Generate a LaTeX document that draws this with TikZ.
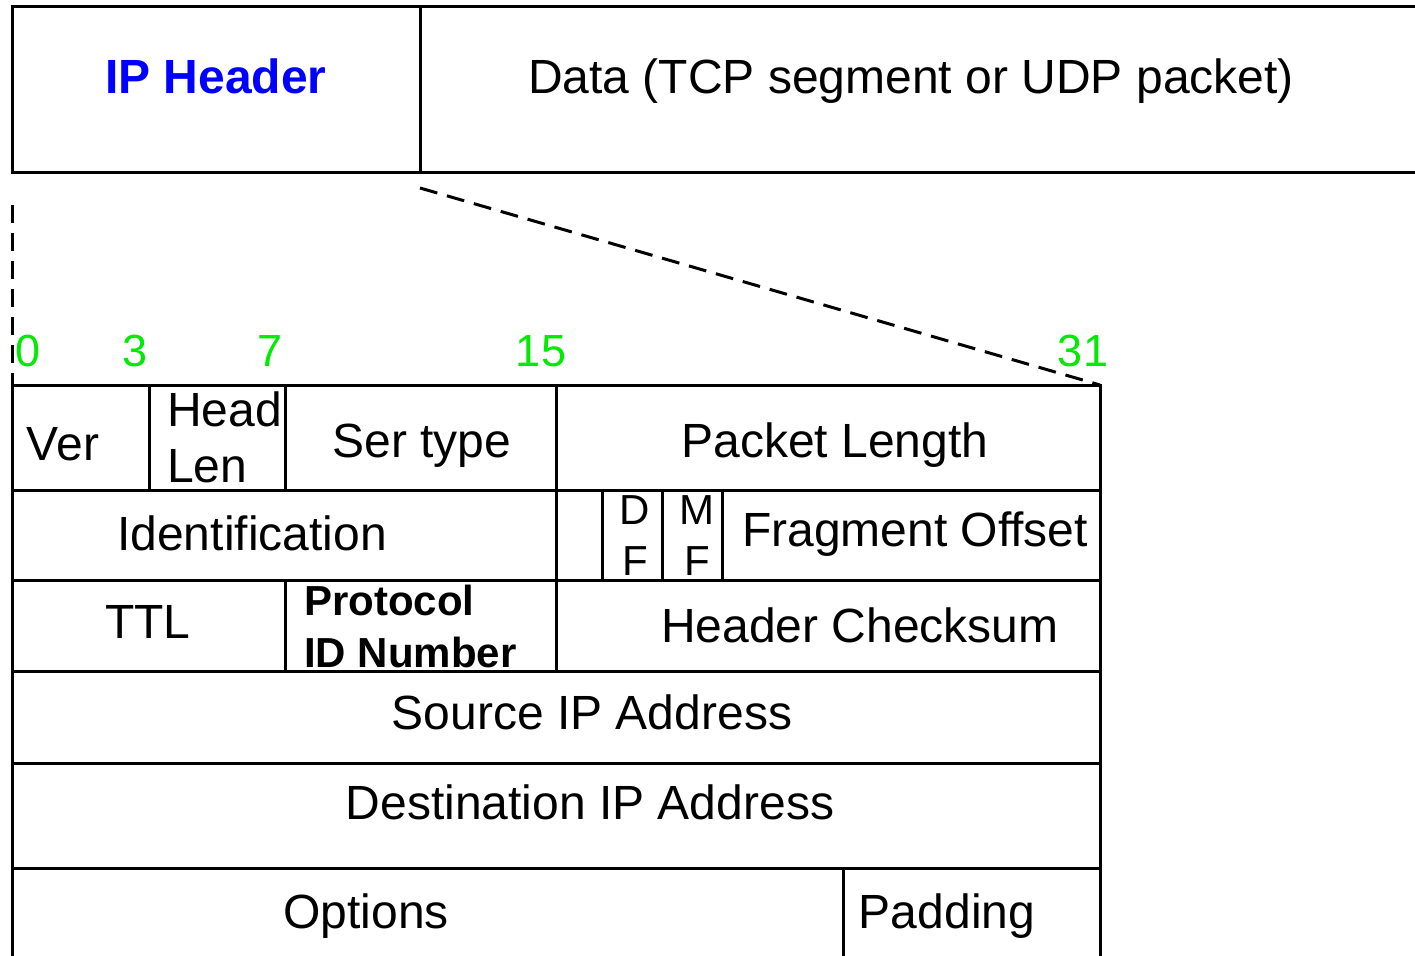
\documentclass[tikz,border=0pt]{standalone}
\usepackage{fontspec}
\setmainfont{Liberation Sans}
\usetikzlibrary{positioning}
\definecolor{bitgreen}{RGB}{0,235,0}
\tikzset{
  field/.style={font=\fontsize{48}{56}\selectfont, inner sep=0pt, anchor=base},
  flag/.style={font=\fontsize{42}{51}\selectfont, inner sep=0pt, align=center, anchor=north},
  bitno/.style={font=\fontsize{45}{50}\selectfont, text=bitgreen, inner sep=0pt, anchor=base},
  rule/.style={line width=3pt},
  zoomline/.style={line width=3pt, dash pattern=on 18pt off 10pt}
}
\begin{document}
\begin{tikzpicture}[x=1pt, y=-1pt]
\clip (0,0) rectangle (1415,955);
\draw[rule] (1430,7) -- (12,7) -- (12,172) -- (1430,172);
\draw[rule] (420,7) -- (420,172);
\node[field, font=\fontsize{48}{56}\bfseries, text=blue] (hdr) at (216,94) {IP Header};
\node[field] (data) at (911,94) {Data (TCP segment or UDP packet)};
\coordinate (hdrSE) at (420,188);
\coordinate (hdrSW) at (12,205);
\coordinate (tabNW) at (12,385);
\coordinate (tabNE) at (1100,385);
\draw[zoomline] (hdrSE) -- (tabNE);
\draw[zoomline] (hdrSW) -- (tabNW);
\node[bitno] (b0) at (28,366) {0};
\node[bitno] (b3) at (135,366) {3};
\node[bitno] (b7) at (270,366) {7};
\node[bitno] (b15) at (541,366) {15};
\node[bitno] (b31) at (1083,366) {31};
% header table
\draw[rule] (12,960) -- (tabNW) -- (tabNE) -- (1100,960);
\foreach \y in {490,580,671,763,868}
  \draw[rule] (12,\y) -- (1100,\y);
\foreach \x in {149,285}
  \draw[rule] (\x,385) -- (\x,490);
\draw[rule] (556,385) -- (556,671);
\foreach \x in {602,662,722}
  \draw[rule] (\x,490) -- (\x,580);
\draw[rule] (285,580) -- (285,671);
\draw[rule] (843,868) -- (843,960);
\node[field] (ver) at (63,460) {Ver};
\node[field, align=left, anchor=north west] (hlen) at (167,392) {Head\\Len};
\node[field] (sertype) at (422,457) {Ser type};
\node[field] (pktlen) at (835,457) {Packet Length};
\node[field] (ident) at (252,550) {Identification};
\node[flag] (df) at (635,495) {D\\F};
\node[flag] (mf) at (697,495) {M\\F};
\node[field] (fragoff) at (915,546) {Fragment Offset};
\node[field] (ttl) at (148,638) {TTL};
\node[field, font=\fontsize{42}{52}\bfseries, align=left, anchor=north west] (proto) at (304,585) {Protocol\\ID Number};
\node[field] (chksum) at (860,642) {Header Checksum};
\node[field] (srcip) at (592,729) {Source IP Address};
\node[field] (dstip) at (590,819) {Destination IP Address};
\node[field] (opts) at (366,928) {Options};
\node[field] (pad) at (947,928) {Padding};
\end{tikzpicture}
\end{document}
